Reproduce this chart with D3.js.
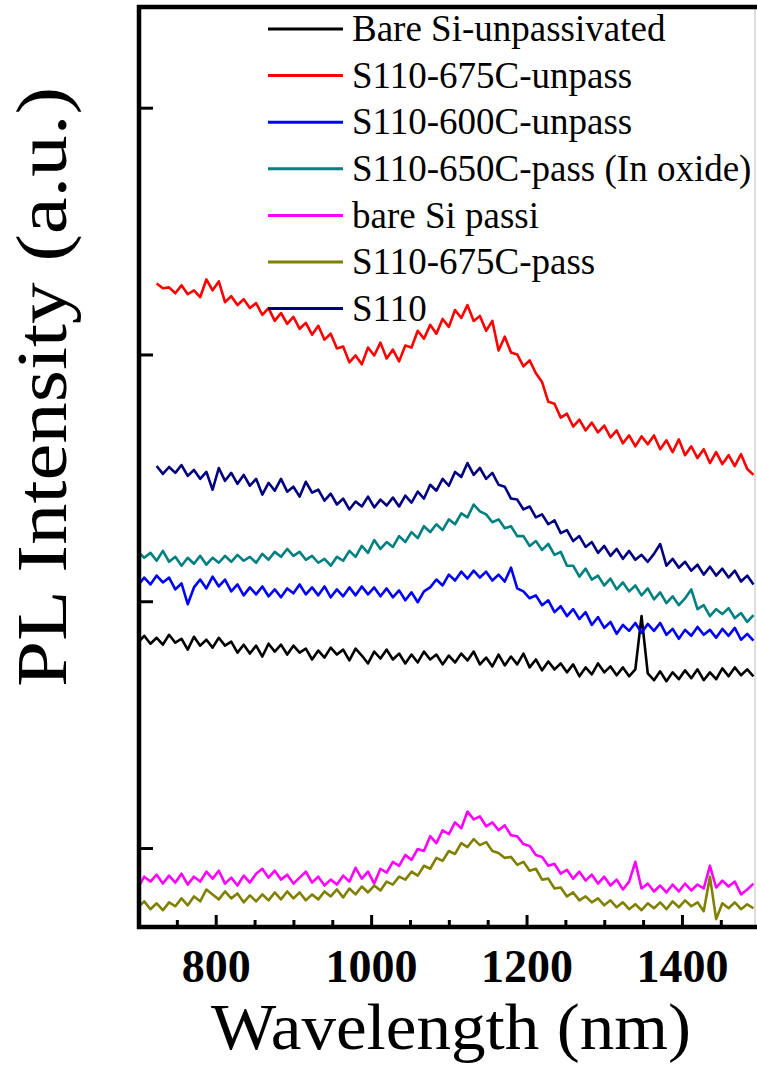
<!DOCTYPE html>
<html>
<head>
<meta charset="utf-8">
<script src="https://cdn.jsdelivr.net/npm/d3@7"></script>
<style>
  body { margin: 0; background: #fff; }
  svg text { font-family: "Liberation Serif", "Times New Roman", serif; fill: #000; }
</style>
</head>
<body>
<svg id="chart" width="757" height="1065"></svg>
<script>
const wlStep = 8;

const seriesNames = [
  "Bare Si-unpassivated",
  "S110-675C-unpass",
  "S110-600C-unpass",
  "S110-650C-pass (In oxide)",
  "bare Si passi",
  "S110-675C-pass",
  "S110"
];
const seriesStart = [700, 724, 700, 700, 700, 700, 724];

const bareSiUnpass = [
  458,465,457,463,456,466,458,462,451,464,
  455,461,453,463,455,459,448,456,447,455,
  444,457,449,456,446,455,448,452,441,450,
  443,453,446,451,440,452,445,437,449,442,
  451,441,447,437,446,438,449,441,446,436,
  445,438,447,440,449,436,443,434,446,435,
  444,436,447,433,441,430,439,431,437,428,
  436,424,433,426,437,428,434,425,433,424,
  431,485,427,420,429,419,428,421,430,422,
  431,420,428,421,432,424,433,425,431,424
];
const s110_675Unpass = [
  822,817,818,812,820,811,815,808,826,815,
  824,803,809,800,806,797,802,790,797,784,
  792,781,788,776,782,770,779,765,771,756,
  758,742,749,740,757,749,762,746,755,743,
  759,757,774,766,780,771,786,778,795,787,
  800,784,789,774,784,754,768,752,750,738,
  744,731,722,702,700,686,690,677,684,673,
  681,671,678,666,673,660,668,657,667,659,
  668,654,663,651,664,648,657,645,654,640,
  651,639,648,637,649,634,628
];
const s110_600Unpass = [
  516,524,517,526,519,524,512,518,497,514,
  522,513,525,515,522,510,517,506,514,507,
  515,505,512,504,513,508,517,507,514,506,
  515,504,512,505,514,506,515,507,514,505,
  513,504,511,501,509,499,510,514,522,516,
  527,521,530,523,531,524,530,521,527,520,
  534,513,510,503,506,496,501,489,495,485,
  492,482,489,476,484,473,479,467,476,470,
  478,468,477,470,478,466,472,462,471,465,
  474,466,471,463,472,465,473,461,467,460
];
const s110_650Pass = [
  550,544,549,541,551,540,545,536,544,538,
  546,537,544,539,546,540,547,541,545,539,
  548,542,550,545,553,546,550,542,546,539,
  543,536,545,541,551,545,556,549,562,553,
  560,555,566,560,570,564,576,570,578,572,
  583,578,589,585,598,591,588,580,583,574,
  576,566,566,556,561,552,558,547,550,536,
  536,525,533,522,526,516,523,512,519,510,
  516,506,513,502,509,498,505,496,503,512,
  492,496,485,492,487,493,483,488,479,486
];
const bareSiPassi = [
  210,221,216,223,214,222,215,224,213,221,
  216,226,219,227,214,220,212,222,215,224,
  229,220,227,218,223,214,220,226,215,221,
  212,218,213,222,216,230,219,226,214,229,
  225,236,232,243,238,249,247,262,255,268,
  264,276,270,287,279,282,272,276,268,273,
  263,262,254,252,243,241,232,234,224,228,
  219,226,217,223,214,221,212,218,208,216,
  236,209,214,206,212,205,213,206,214,207,
  213,209,232,210,217,211,216,203,208,214
];
const s110_675Pass = [
  190,196,188,194,187,195,191,199,192,201,
  196,208,203,198,206,199,204,195,202,196,
  203,197,205,198,206,199,205,197,203,198,
  206,201,208,200,209,203,211,205,212,207,
  216,213,221,218,226,222,232,229,240,237,
  247,244,255,251,259,253,256,247,245,240,
  241,233,236,227,229,218,219,209,210,201,
  205,197,201,195,199,192,197,190,195,188,
  193,187,194,189,195,188,196,190,197,191,
  195,186,221,178,194,189,195,188,193,189
];
const s110 = [
  637,629,636,630,638,627,633,624,631,613,
  635,622,630,619,628,617,624,608,620,612,
  624,611,616,606,621,610,613,602,609,598,
  604,593,601,596,606,595,603,597,605,596,
  607,600,611,604,618,612,624,617,631,626,
  640,628,635,624,630,618,616,604,603,593,
  596,585,588,578,582,569,572,561,566,555,
  560,549,556,546,553,543,551,542,547,540,
  548,558,536,543,534,540,531,537,527,535,
  526,533,524,531,520,526,517
];

const seriesValues = [bareSiUnpass, s110_675Unpass, s110_600Unpass, s110_650Pass, bareSiPassi, s110_675Pass, s110];
const seriesColors = ["#000000", "#ff0000", "#0000ff", "#008080", "#ff00ff", "#808000", "#000080"];

const xTicks = [800, 1000, 1200, 1400];
const xMinorTicks = [750, 850, 900, 950, 1050, 1100, 1150, 1250, 1300, 1350, 1450];
const yTicks = [250, 500, 750, 1000];

let svg = d3.select("#chart");

let x = d3.scaleLinear().domain([700, 1494]).range([138, 755]);
let y = d3.scaleLinear().domain([170, 1102]).range([927, 7]);

// right edge of the frame is cropped in the figure, only a faint line shows
svg.append("line").attr("x1", 755).attr("x2", 755).attr("y1", 7).attr("y2", 927)
  .attr("stroke", "#c8c8c8").attr("stroke-width", 1.2);

// spectra
let line = (start) => d3.line()
  .x((d, i) => x(start + i * wlStep))
  .y(d => y(d));

let gLines = svg.append("g").attr("class", "spectra");
seriesValues.forEach((vals, k) => {
  gLines.append("path")
    .datum(vals)
    .attr("d", line(seriesStart[k]))
    .attr("fill", "none")
    .attr("stroke", seriesColors[k])
    .attr("stroke-width", 2.6)
    .attr("stroke-linejoin", "round");
});

// axes, ticks pointing inward
let xAxis = svg.append("g").attr("transform", "translate(0,927)")
  .call(d3.axisBottom(x).tickValues(xTicks).tickSize(-12).tickPadding(22).tickFormat(d3.format("d")));
let xMinor = svg.append("g").attr("transform", "translate(0,927)")
  .call(d3.axisBottom(x).tickValues(xMinorTicks).tickSize(-7).tickFormat(""));
let yAxis = svg.append("g").attr("transform", "translate(139,0)")
  .call(d3.axisLeft(y).tickValues(yTicks).tickSize(-14).tickFormat(""));

[xAxis, xMinor, yAxis].forEach(g => {
  g.select(".domain").remove();
  g.selectAll(".tick line").attr("stroke", "#000").attr("stroke-width", 3);
});
xAxis.selectAll(".tick text")
  .style("font-family", "'Liberation Serif', serif")
  .style("font-size", "46px")
  .style("font-weight", "bold")
  .attr("fill", "#000");

svg.append("line").attr("x1", 137).attr("x2", 757).attr("y1", 927).attr("y2", 927)
  .attr("stroke", "#000").attr("stroke-width", 4.5);
svg.append("line").attr("x1", 139).attr("x2", 139).attr("y1", 5).attr("y2", 929)
  .attr("stroke", "#000").attr("stroke-width", 4.5);
svg.append("line").attr("x1", 137).attr("x2", 757).attr("y1", 7).attr("y2", 7)
  .attr("stroke", "#000").attr("stroke-width", 4.5);

// axis titles
svg.append("text")
  .attr("x", 451).attr("y", 1049)
  .attr("text-anchor", "middle")
  .style("font-size", "66px")
  .attr("textLength", 480)
  .attr("lengthAdjust", "spacingAndGlyphs")
  .text("Wavelength (nm)");

svg.append("text")
  .attr("transform", "translate(66,387) rotate(-90)")
  .attr("text-anchor", "middle")
  .style("font-size", "72px")
  .attr("textLength", 600)
  .attr("lengthAdjust", "spacingAndGlyphs")
  .text("PL Intensity (a.u.)");

// legend
let legendY0 = 29, legendStep = 46.6;
let legend = svg.append("g").attr("class", "legend");
seriesNames.forEach((name, k) => {
  let ly = legendY0 + k * legendStep;
  legend.append("line")
    .attr("x1", 268).attr("x2", 343).attr("y1", ly).attr("y2", ly)
    .attr("stroke", seriesColors[k]).attr("stroke-width", 3);
  legend.append("text")
    .attr("x", 352).attr("y", ly).attr("dy", "0.33em")
    .style("font-size", "37px")
    .text(name);
});
</script>
</body>
</html>
